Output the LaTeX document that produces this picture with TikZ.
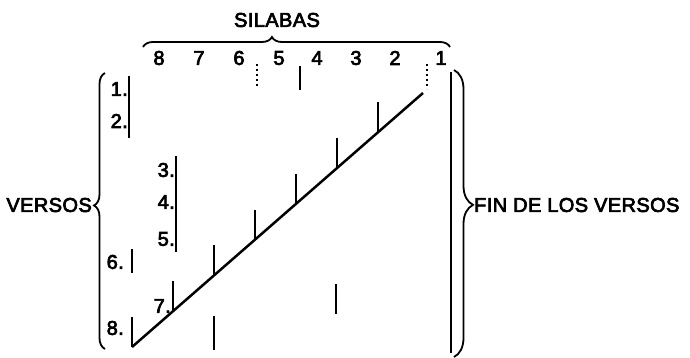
\documentclass[tikz,border=0pt]{standalone}
\usepackage{fontspec}
\setmainfont{Liberation Sans}[FakeBold=3.5,LetterSpace=2]
\usetikzlibrary{decorations.pathreplacing,calc}
\begin{document}
\begin{tikzpicture}[x=1pt,y=-1pt,
  lbl/.style={inner sep=0pt,font=\fontsize{20}{24}\selectfont},
  bar/.style={line width=2pt},
  dots/.style={line width=2pt,dash pattern=on 2pt off 3pt},
  bracestyle/.style={line width=1.8pt,decorate},
]
\useasboundingbox (0,0) rectangle (690,358);
% titles
\node[lbl] (sil) at (277,20) {SILABAS};
\node[lbl,anchor=east] (ver) at (92,205) {VERSOS};
\node[lbl,anchor=west] (fin) at (474,205) {FIN DE LOS VERSOS};
% syllable numbers
\foreach \n/\x in {8/159,7/199,6/239,5/279,4/317,3/356,2/395,1/441}
  \node[lbl] (s\n) at (\x,58) {\n};
% verse numbers
\node[lbl,anchor=east] (v1) at (128,89) {1.};
\node[lbl,anchor=east] (v2) at (128,121) {2.};
\node[lbl,anchor=east] (v3) at (175,170) {3.};
\node[lbl,anchor=east] (v4) at (175,202) {4.};
\node[lbl,anchor=east] (v5) at (175,239) {5.};
\node[lbl,anchor=east] (v6) at (124,262) {6.};
\node[lbl,anchor=east] (v7) at (171,306) {7.};
\node[lbl,anchor=east] (v8) at (124,328) {8.};
% braces
\draw[bracestyle,decoration={brace,amplitude=10pt,aspect=0.42}] (143,47) -- (450,47);
\draw[bracestyle,decoration={brace,amplitude=11pt,aspect=0.52}] (105,349) -- (105,73);
\draw[bracestyle,decoration={brace,amplitude=19pt,aspect=0.47}] (454,70) -- (454,357);
\draw[line width=2.4pt] (451,72) -- (451,353);
% vertical bars
\draw[bar] (129,76) -- (129,138);
\draw[bar] (176,156) -- (176,252);
\draw[bar] (132,249) -- (132,273);
\draw[bar] (214,316) -- (214,350);
\draw[bar] (336,284) -- (336,314);
\draw[bar] (300,66) -- (300,90);
\draw[dots] (257,64) -- (257,88);
\draw[dots] (427,64) -- (427,89);
% diagonal with ticks
\coordinate (d0) at (132,347);
\coordinate (d1) at (423,93);
\draw[line width=2.5pt] (d0) -- (d1);
\draw[bar] (d0) -- ++(0,-30);
\foreach \k in {1,...,6}
  \draw[bar] ($(d0)!\k*0.1409!(d1)$) -- ++(0,-30);
\end{tikzpicture}
\end{document}
